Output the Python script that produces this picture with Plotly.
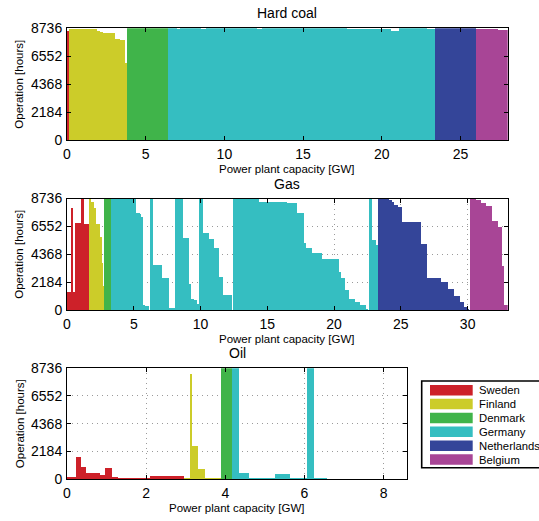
import plotly.graph_objects as go

# ---------------- data ----------------
countries = ["Sweden", "Finland", "Denmark", "Germany", "Netherlands", "Belgium"]
colors = ["#CD2129", "#CCCC29", "#40B44A", "#35BEC1", "#344599", "#A84596"]

y_ticks = [0, 2184, 4368, 6552, 8736]
coal_x_ticks = [0, 5, 10, 15, 20, 25]
gas_x_ticks = [0, 5, 10, 15, 20, 25, 30]
oil_x_ticks = [0, 2, 4, 6, 8]

# Hard coal: plant capacity [GW] and operation [hours], sorted per country
coal_se_gw = [0.15]
coal_se_h = [8476]
coal_fi_gw = [0.89, 0.84, 0.22, 0.20, 0.75, 0.31, 0.32, 0.13]
coal_fi_h = [8684, 8640, 8528, 8424, 8346, 7902, 7772, 5998]
coal_dk_gw = [2.58]
coal_dk_h = [8736]
coal_de_gw = [0.61, 0.2, 1.3, 0.3, 3.3, 0.3, 5.4, 2.4, 0.4, 0.5, 1.8, 0.47]
coal_de_h = [8736, 8650, 8710, 8650, 8710, 8620, 8710, 8690, 8640, 8480, 8700, 8650]
coal_nl_gw = [2.63]
coal_nl_h = [8736]
coal_be_gw = [1.4, 0.6]
coal_be_h = [8660, 8550]

# Gas
gas_se_gw = [0.32, 0.08, 0.22, 0.45, 0.18, 0.40]
gas_se_h = [1411, 8070, 1411, 6840, 8736, 6740]
gas_fi_gw = [0.17, 0.18, 0.17, 0.33, 0.12, 0.08, 0.10]
gas_fi_h = [8736, 8520, 8050, 6790, 5730, 3730, 1940]
gas_dk_gw = [0.46]
gas_dk_h = [8736]
gas_de_gw = [1.94, 0.25, 0.12, 0.13, 0.17, 0.25, 0.08, 0.25, 0.67, 0.5, 0.48,
             0.6, 0.4, 0.22, 0.18, 0.25, 0.10, 0.05, 0.3, 0.43, 0.38, 0.39,
             0.28, 0.70, 0.07, 1.90, 2.15, 0.75, 0.5, 0.12, 0.5, 0.75, 1.25,
             0.13, 0.32, 0.30, 0.43, 0.40, 0.42, 0.18, 0.07, 0.25, 0.30, 0.15]
gas_de_h = [8736, 7670, 7540, 7320, 400, 320, 0, 8736, 3540, 2550, 186,
            8736, 5650, 2100, 930, 800, 530, 0, 8736, 6070, 5590, 4870,
            2660, 1250, 0, 8736, 8523, 8390, 7670, 5250, 4930, 4530, 4050,
            3010, 2580, 1600, 930, 670, 450, 130, 0, 8736, 5540, 5140]
gas_nl_gw = [0.81, 0.17, 0.2, 0.25, 0.3, 1.45, 0.45, 1.05, 0.55, 0.4, 0.5, 0.3, 0.25, 0.12, 0.08]
gas_nl_h = [8736, 8656, 8523, 8257, 8123, 6925, 5194, 2584, 2210, 1678, 1145, 666, 240, 133, 0]
gas_be_gw = [0.42, 0.38, 0.37, 0.45, 0.43, 0.32, 0.13, 0.30]
gas_be_h = [8736, 8656, 8390, 8177, 7005, 6525, 3462, 400]

# Oil
oil_se_gw = [0.23, 0.12, 0.13, 0.35, 0.14, 0.16, 0.16, 0.81, 0.86]
oil_se_h = [106, 1720, 926, 476, 290, 847, 130, 25, 185]
oil_fi_gw = [0.14, 0.07, 0.15, 0.18, 0.39]
oil_fi_h = [25, 8285, 2594, 741, 25]
oil_dk_gw = [0.29]
oil_dk_h = [8736]
oil_de_gw = [0.17, 0.24, 0.67, 0.37, 0.44, 0.16, 0.34]
oil_de_h = [8736, 423, 25, 397, 25, 8736, 25]
oil_nl_gw = []
oil_nl_h = []
oil_be_gw = []
oil_be_h = []

# ---------------- figure ----------------
W, H = 539, 521
FONT = "Liberation Sans, Arial, Helvetica, sans-serif"


def fx(px):
    return px / W


def fy(py):
    return 1 - py / H


fig = go.Figure()


def add_panel(gw_lists, h_lists, xa, ya):
    left = 0.0
    for name, color, gws, hs in zip(countries, colors, gw_lists, h_lists):
        xs, ws, ys = [], [], []
        for w, h in zip(gws, hs):
            xs.append(left + w / 2)
            ws.append(w)
            ys.append(h)
            left += w
        fig.add_trace(go.Bar(
            x=xs, y=ys, width=ws, name=name,
            marker=dict(color=color, line=dict(width=0)),
            xaxis=xa, yaxis=ya, showlegend=False,
            hovertemplate=name + ": %{y} h<extra></extra>",
        ))


add_panel([coal_se_gw, coal_fi_gw, coal_dk_gw, coal_de_gw, coal_nl_gw, coal_be_gw],
          [coal_se_h, coal_fi_h, coal_dk_h, coal_de_h, coal_nl_h, coal_be_h], "x", "y")
add_panel([gas_se_gw, gas_fi_gw, gas_dk_gw, gas_de_gw, gas_nl_gw, gas_be_gw],
          [gas_se_h, gas_fi_h, gas_dk_h, gas_de_h, gas_nl_h, gas_be_h], "x2", "y2")
add_panel([oil_se_gw, oil_fi_gw, oil_dk_gw, oil_de_gw, oil_nl_gw, oil_be_gw],
          [oil_se_h, oil_fi_h, oil_dk_h, oil_de_h, oil_nl_h, oil_be_h], "x3", "y3")

axis_common = dict(
    showline=True, linecolor="black", linewidth=1, mirror="ticks",
    ticks="inside", ticklen=4, tickcolor="black", tickwidth=1,
    showgrid=True, gridcolor="#9a9a9a", griddash="1px,4px", gridwidth=1,
    zeroline=False, automargin=False,
    tickfont=dict(size=14, color="black", family=FONT),
)

panels = [
    # (title, x range, x ticks, x px left, x px right, y px top, y px bottom)
    ("Hard coal", [0, 28], coal_x_ticks, 67, 507.7, 28.3, 140),
    ("Gas", [0, 33], gas_x_ticks, 67, 507.7, 198.5, 310),
    ("Oil", [0, 8.6], oil_x_ticks, 67, 407.3, 368.3, 479),
]

annotations = []
for i, (title, xr, xt, xl, xrgt, yt, yb) in enumerate(panels):
    sfx = "" if i == 0 else str(i + 1)
    fig.layout["xaxis" + sfx] = dict(
        axis_common, range=xr, tickvals=xt, domain=[fx(xl), fx(xrgt)],
        anchor="y" + sfx, ticklabelstandoff=1,
    )
    fig.layout["yaxis" + sfx] = dict(
        axis_common, range=[0, 8736], tickvals=y_ticks, domain=[fy(yb), fy(yt)],
        anchor="x" + sfx, ticklabelstandoff=1,
    )
    xc = (xl + xrgt) / 2
    annotations.append(dict(text=title, x=fx(xc), y=fy(yt - 15), xref="paper", yref="paper",
                            xanchor="center", yanchor="middle", showarrow=False,
                            font=dict(size=14, color="black", family=FONT)))
    annotations.append(dict(text="Power plant capacity [GW]", x=fx(xc), y=fy(yb + 29),
                            xref="paper", yref="paper", xanchor="center", yanchor="middle",
                            showarrow=False, font=dict(size=11.5, color="black", family=FONT)))
    annotations.append(dict(text="Operation [hours]", x=fx(19.5), y=fy((yt + yb) / 2),
                            xref="paper", yref="paper", xanchor="center", yanchor="middle",
                            textangle=-90, showarrow=False,
                            font=dict(size=11.5, color="black", family=FONT)))

# legend (drawn as a box with swatches)
shapes = [dict(type="rect", xref="paper", yref="paper", x0=fx(421.7), x1=fx(560),
               y0=fy(467.7), y1=fy(381), line=dict(color="black", width=1.6),
               fillcolor="white", layer="above")]
for i, (name, color) in enumerate(zip(countries, colors)):
    top = 385 + i * 13.85
    shapes.append(dict(type="rect", xref="paper", yref="paper", x0=fx(430), x1=fx(472.7),
                       y0=fy(top + 10.5), y1=fy(top), line=dict(width=0), fillcolor=color,
                       layer="above"))
    annotations.append(dict(text=name, x=fx(476.5), y=fy(top + 5.3), xref="paper", yref="paper",
                            xanchor="left", yanchor="middle", showarrow=False,
                            font=dict(size=11.3, color="black", family=FONT)))

fig.update_layout(
    width=W, height=H, autosize=False,
    margin=dict(l=0, r=0, t=0, b=0, pad=0, autoexpand=False),
    paper_bgcolor="white", plot_bgcolor="white",
    barmode="overlay", bargap=0, showlegend=False,
    annotations=annotations, shapes=shapes,
    font=dict(family=FONT, color="black"),
)

fig.write_html(
    "out.html",
    config={"displayModeBar": False},
    post_script="document.body.style.margin='0';document.body.style.padding='0';",
)
